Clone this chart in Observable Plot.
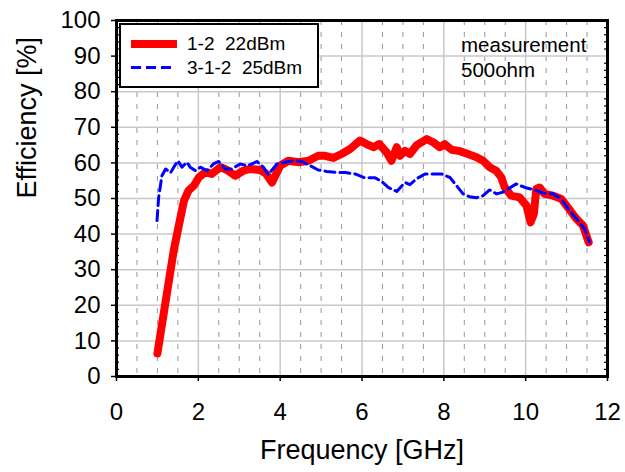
<!DOCTYPE html>
<html>
<head>
<meta charset="utf-8">
<script src="https://cdn.jsdelivr.net/npm/d3@7"></script>
<script src="https://cdn.jsdelivr.net/npm/@observablehq/plot@0.6"></script>
<style>
  body { margin: 0; background: #fff; }
  #wrap { position: relative; width: 625px; height: 472px; font-family: "Liberation Sans", Arial, sans-serif; color: #000; }
  .legend { position: absolute; left: 119px; top: 23px; width: 196px; height: 61px; border: 2px solid #000; background: #fff; }
  .sample-red { position: absolute; left: 10px; top: 15px; width: 46px; height: 8px; background: #ff0000; }
  .sample-blue { position: absolute; left: 10px; top: 41px; width: 44px; height: 3px;
    background: repeating-linear-gradient(to right, #0000ff 0 10px, transparent 10px 15px); }
  .ltext { position: absolute; left: 66px; font-size: 19px; line-height: 22px; white-space: pre; }
  .note { position: absolute; left: 461px; font-size: 20.5px; line-height: 22px; white-space: pre; }
</style>
</head>
<body>
<div id="wrap"></div>
<script>
// ---- data ----
const freqRed = [1.00, 1.20, 1.40, 1.56, 1.65, 1.76, 1.89, 2.01, 2.17, 2.33, 2.54, 2.70, 2.90, 3.10, 3.27, 3.51, 3.65, 3.80, 4.00, 4.20, 4.45, 4.69, 4.93, 5.10, 5.30, 5.50, 5.71, 5.95, 6.11, 6.28, 6.42, 6.60, 6.72, 6.85, 6.93, 7.05, 7.17, 7.33, 7.58, 7.74, 7.90, 8.02, 8.19, 8.39, 8.59, 8.80, 8.96, 9.12, 9.28, 9.40, 9.49, 9.65, 9.85, 10.02, 10.12, 10.20, 10.26, 10.34, 10.46, 10.67, 10.87, 11.03, 11.24, 11.40, 11.54];
const effRed  = [6.5, 21.0, 35.5, 44.5, 49.4, 52.2, 53.6, 55.9, 57.4, 56.9, 58.8, 58.0, 56.4, 57.8, 58.3, 58.0, 57.0, 54.5, 59.2, 60.6, 60.2, 60.6, 62.0, 62.0, 61.4, 62.5, 63.9, 66.3, 65.3, 64.4, 65.3, 63.0, 60.6, 64.4, 62.0, 63.4, 62.5, 64.9, 66.7, 65.8, 64.4, 65.3, 63.7, 63.3, 62.5, 61.6, 60.6, 58.8, 57.8, 56.0, 53.1, 50.8, 50.3, 48.0, 43.3, 45.7, 52.7, 53.1, 51.3, 50.8, 49.9, 47.5, 44.3, 42.4, 37.7];

const freqBlue = [0.99, 1.03, 1.11, 1.20, 1.32, 1.40, 1.50, 1.60, 1.72, 1.80, 1.93, 2.05, 2.21, 2.37, 2.50, 2.66, 2.82, 3.02, 3.19, 3.31, 3.43, 3.59, 3.71, 3.92, 4.12, 4.32, 4.53, 4.69, 4.93, 5.14, 5.38, 5.59, 5.83, 6.07, 6.32, 6.48, 6.64, 6.85, 7.05, 7.17, 7.33, 7.54, 7.74, 7.94, 8.15, 8.31, 8.47, 8.63, 8.80, 8.96, 9.12, 9.29, 9.45, 9.57, 9.77, 9.98, 10.22, 10.46, 10.67, 10.87, 11.07, 11.28, 11.44, 11.56];
const effBlue  = [43.8, 50.3, 56.4, 58.3, 57.2, 58.8, 60.6, 58.8, 60.2, 58.8, 57.8, 58.8, 57.8, 59.7, 60.4, 58.3, 58.3, 59.7, 59.2, 59.7, 60.4, 58.8, 56.7, 59.7, 60.2, 60.6, 60.4, 59.5, 58.0, 57.6, 57.3, 57.3, 56.9, 55.8, 55.8, 54.8, 53.1, 52.0, 54.5, 53.9, 55.5, 56.9, 56.9, 56.9, 55.9, 53.6, 51.3, 50.5, 50.2, 50.8, 52.4, 51.3, 51.8, 52.7, 54.1, 53.1, 52.4, 51.4, 51.3, 49.9, 46.6, 43.8, 41.4, 37.7];

const seriesNames = ["1-2  22dBm", "3-1-2  25dBm"];
const noteLines = ["measurement", "500ohm"];

const xTicks = [0, 2, 4, 6, 8, 10, 12];
const xMinorGrid = [0.5, 1, 1.5, 2.5, 3, 3.5, 4.5, 5, 5.5, 6.5, 7, 7.5, 8.5, 9, 9.5, 10.5, 11, 11.5];
const yTicks = [0, 10, 20, 30, 40, 50, 60, 70, 80, 90, 100];
const yMinor = d3.range(2, 100, 2).filter(v => v % 10 !== 0);

const xLabel = "Frequency [GHz]";
const yLabel = "Efficiency [%]";

// ---- build ----
const red = freqRed.map((f, i) => ({f, e: effRed[i]}));
const blue = freqBlue.map((f, i) => ({f, e: effBlue[i]}));

const chart = Plot.plot({
  width: 625,
  height: 472,
  marginLeft: 116,
  marginRight: 18,
  marginTop: 20,
  marginBottom: 96,
  style: {fontFamily: '"Liberation Sans", Arial, sans-serif', background: "#fff", color: "#000"},
  x: {domain: [0, 12]},
  y: {domain: [0, 100]},
  marks: [
    Plot.gridX(xMinorGrid, {stroke: "#9d92a6", strokeOpacity: 1, strokeWidth: 1, strokeDasharray: "5,7"}),
    Plot.gridX(xTicks, {stroke: "#c8c8c8", strokeOpacity: 1, strokeWidth: 1.5}),
    Plot.gridY(yTicks, {stroke: "#c8c8c8", strokeOpacity: 1, strokeWidth: 1.5}),
    Plot.line(red, {x: "f", y: "e", stroke: "#ff0000", strokeWidth: 8, strokeLinejoin: "round"}),
    Plot.line(blue, {x: "f", y: "e", stroke: "#0000ff", strokeWidth: 3, strokeDasharray: "10,5"}),
    Plot.frame({stroke: "#000", strokeWidth: 3}),
    Plot.axisX(xTicks, {tickSize: 5, tickPadding: 21, fontSize: 24, label: null, strokeWidth: 1.5}),
    Plot.axisY(yTicks, {tickSize: 5, tickPadding: 11, fontSize: 24, label: null, strokeWidth: 1.5}),
    Plot.axisY(yMinor, {anchor: "left", tickSize: -3, tickFormat: () => "", label: null, strokeWidth: 1.2}),
    Plot.axisY(yMinor, {anchor: "right", tickSize: -4, tickFormat: () => "", label: null, strokeWidth: 1.2}),
    Plot.text([xLabel], {frameAnchor: "bottom", dy: 82, fontSize: 27, fill: "#000"}),
    Plot.text([yLabel], {frameAnchor: "left", dx: -89, rotate: -90, fontSize: 27, fill: "#000"})
  ]
});

const wrap = document.getElementById("wrap");
wrap.appendChild(chart);

const legend = document.createElement("div");
legend.className = "legend";
legend.innerHTML =
  `<div class="sample-red"></div><div class="ltext" style="top:8px">${seriesNames[0]}</div>` +
  `<div class="sample-blue"></div><div class="ltext" style="top:32px">${seriesNames[1]}</div>`;
wrap.appendChild(legend);

noteLines.forEach((t, i) => {
  const d = document.createElement("div");
  d.className = "note";
  d.style.top = (34 + i * 25) + "px";
  d.textContent = t;
  wrap.appendChild(d);
});
</script>
</body>
</html>
